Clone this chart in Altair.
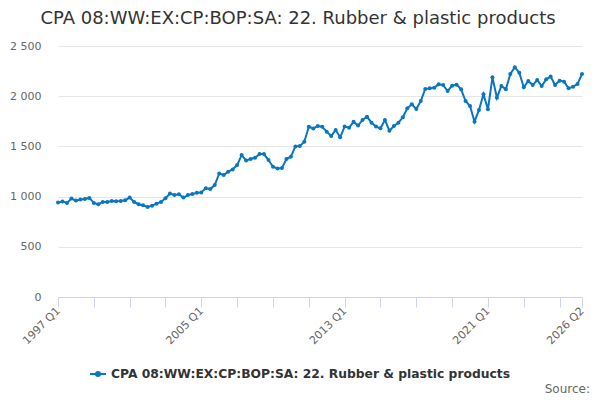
import altair as alt
import pandas as pd

title_text = "CPA 08:WW:EX:CP:BOP:SA: 22. Rubber & plastic products"
series_name = "CPA 08:WW:EX:CP:BOP:SA: 22. Rubber & plastic products"

start_year = 1997
values = [
    940, 950, 937, 980, 960, 970, 977, 987, 937, 924,
    947, 947, 957, 953, 957, 963, 990, 947, 924, 914,
    897, 910, 930, 947, 983, 1030, 1017, 1023, 990, 1015,
    1025, 1038, 1042, 1082, 1075, 1115, 1231, 1215, 1248, 1271,
    1314, 1414, 1360, 1374, 1387, 1424, 1424, 1364, 1297, 1281,
    1284, 1374, 1397, 1500, 1503, 1546, 1696, 1679, 1703, 1695,
    1647, 1604, 1663, 1590, 1697, 1687, 1746, 1707, 1763, 1796,
    1736, 1697, 1680, 1763, 1657, 1703, 1736, 1790, 1879, 1919,
    1872, 1952, 2072, 2078, 2085, 2118, 2111, 2052, 2105, 2115,
    2068, 1952, 1902, 1746, 1863, 2019, 1869, 2188, 1985, 2102,
    2068, 2221, 2288, 2234, 2088, 2151, 2111, 2161, 2102, 2168,
    2195, 2111, 2155, 2145, 2078, 2095, 2121, 2221,
]

quarters = [f"{start_year + i // 4} Q{i % 4 + 1}" for i in range(len(values))]
tick_positions = list(range(0, len(values), 8)) + [len(values) - 1]
label_positions = [0, 32, 64, 96, len(values) - 1]
tick_labels = [quarters[p] for p in label_positions]
y_ticks = [0, 500, 1000, 1500, 2000, 2500]
source_text = ["Source:"]

df = pd.DataFrame({"t": list(range(len(values))), "quarter": quarters,
                   "value": values, "series": series_name})

label_expr = "".join(
    f"datum.value == {p} ? '{lab}' : " for p, lab in zip(label_positions, tick_labels)
) + "''"

FONT = "DejaVu Sans"
BLUE = "#0a76c1"

line = alt.Chart(df).mark_line(
    color=BLUE, strokeWidth=2,
    point=alt.OverlayMarkDef(filled=True, size=16, color=BLUE),
).encode(
    x=alt.X("t:Q", scale=alt.Scale(domain=[0, len(values) - 1], nice=False, zero=False),
            axis=alt.Axis(values=tick_positions, labelExpr=label_expr, title=None,
                          grid=False, domainColor="#ccd6eb", tickColor="#ccd6eb",
                          tickSize=10, labelAngle=-45, labelAlign="right",
                          labelBaseline="middle", labelPadding=2, labelColor="#666666",
                          labelFont=FONT, labelFontSize=11, labelOverlap=False)),
    y=alt.Y("value:Q", scale=alt.Scale(domain=[0, 2500], nice=False),
            axis=alt.Axis(values=y_ticks, title=None, domain=False, ticks=False,
                          gridColor="#e6e6e6", labelColor="#666666", labelFont=FONT,
                          labelFontSize=11, labelPadding=17,
                          labelExpr="replace(format(datum.value, ',d'), ',', ' ')")),
    color=alt.Color("series:N", scale=alt.Scale(range=[BLUE]),
                    legend=alt.Legend(title=None, orient="none", legendX=31, legendY=319,
                                      symbolType="M-1,0L1,0M-0.25,0a0.25,0.25 0 1,0 0.5,0a0.25,0.25 0 1,0 -0.5,0",
                                      symbolSize=256, symbolStrokeWidth=2,
                                      symbolFillColor=BLUE, symbolStrokeColor=BLUE,
                                      labelFont=FONT, labelFontSize=12.3, labelFontWeight="bold",
                                      labelColor="#333333", labelLimit=600)),
)

src = alt.Chart(pd.DataFrame({"s": source_text})).mark_text(
    align="right", baseline="alphabetic", font=FONT, fontSize=12, color="#666666"
).encode(text="s:N", x=alt.value(532), y=alt.value(347))

chart = alt.layer(line, src).properties(
    width=524, height=251,
    padding={"left": 50, "top": 38, "right": 10, "bottom": 103},
    autosize=alt.AutoSizeParams(type="none"),
    title=alt.TitleParams(title_text, font=FONT, fontSize=18, fontWeight="normal",
                          color="#333333", anchor="middle", dx=-22, offset=12),
).configure_view(stroke=None)

chart.save("out.html", embed_options={"renderer": "svg", "actions": False})
